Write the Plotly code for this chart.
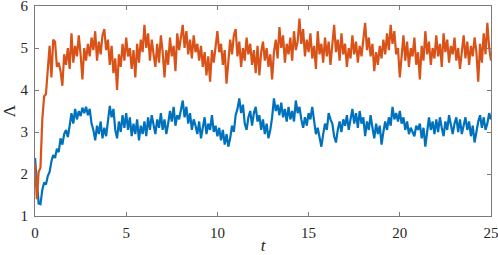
import plotly.graph_objects as go

t = [round(0.1 * i, 1) for i in range(251)]

blue = [
    2.38, 1.85, 1.30, 1.28, 1.62, 1.80, 1.75, 1.95, 2.05, 2.30,
    2.45, 2.38, 2.60, 2.52, 2.85, 2.70, 2.95, 3.05, 2.88, 3.15,
    3.45, 3.20, 3.55, 3.30, 3.50, 3.38, 3.58, 3.45, 3.60, 3.40,
    3.55, 3.20, 3.05, 2.80, 3.15, 2.95, 3.25, 2.85, 3.10, 2.90,
    3.30, 3.62, 3.35, 3.55, 3.05, 2.85, 3.25, 3.00, 3.40, 3.10,
    3.45, 3.05, 3.35, 2.90, 3.20, 2.95, 3.30, 2.80, 3.15, 2.95,
    3.25, 2.90, 3.35, 3.05, 3.40, 3.15, 2.95, 3.30, 3.10, 3.45,
    3.05, 3.30, 2.95, 3.20, 3.50, 3.25, 3.60, 3.15, 3.40, 3.30,
    3.55, 3.75, 3.35, 3.60, 3.20, 3.45, 3.05, 3.30, 3.15, 2.95,
    3.25, 2.85, 3.10, 3.35, 2.95, 3.20, 3.05, 3.40, 3.00, 3.15,
    2.90, 3.10, 2.80, 3.05, 2.70, 2.95, 2.65, 2.85, 3.15, 3.00,
    3.40, 3.55, 3.80, 3.45, 3.65, 3.20, 3.05, 3.35, 3.50, 3.15,
    3.45, 3.60, 3.25, 3.40, 3.05, 3.30, 2.95, 3.20, 2.85, 3.05,
    3.35, 3.80, 3.50, 3.65, 3.40, 3.70, 3.35, 3.55, 3.25, 3.60,
    3.30, 3.50, 3.25, 3.75, 3.45, 3.60, 3.30, 3.10, 3.35, 3.15,
    3.45, 3.30, 3.60, 3.20, 2.95, 3.10, 2.85, 2.65, 2.95, 3.20,
    3.05, 3.45, 3.30, 3.20, 2.90, 2.75, 3.05, 3.25, 3.00, 3.30,
    3.15, 3.40, 3.05, 3.35, 3.55, 3.20, 3.45, 3.10, 3.50, 3.20,
    3.35, 2.90, 3.25, 3.05, 3.40, 3.10, 2.85, 3.20, 2.95, 3.15,
    2.70, 3.00, 3.25, 3.05, 3.35, 3.15, 3.60, 3.30, 3.45, 3.25,
    3.50, 3.20, 3.35, 3.05, 3.25, 2.95, 3.10, 3.00, 2.90, 3.15,
    3.05, 3.20, 2.85, 3.10, 2.65, 3.00, 3.35, 3.05, 3.25, 2.95,
    3.30, 3.00, 3.35, 3.10, 2.90, 3.25, 3.05, 3.40, 3.15, 2.95,
    3.20, 3.35, 3.00, 3.30, 2.95, 3.15, 3.35, 3.05, 3.25, 2.90,
    3.15, 2.75, 3.05, 3.25, 3.40, 3.10, 3.35, 3.05, 3.20, 3.45,
    3.30,
]

orange = [
    2.25, 1.40, 2.05, 2.15, 3.30, 3.85, 3.90, 4.60, 5.05, 4.30,
    5.20, 5.15, 4.55, 4.65, 4.45, 4.10, 4.85, 4.60, 5.00, 4.50,
    5.35, 4.65, 5.05, 4.80, 5.30, 4.85, 4.25, 5.00, 4.70, 5.10,
    4.80, 5.25, 4.95, 5.40, 4.70, 5.15, 4.85, 5.30, 5.45, 4.95,
    5.20, 4.60, 5.05, 4.40, 4.75, 4.00, 4.85, 4.55, 5.10, 4.70,
    5.25, 4.80, 5.00, 4.50, 4.95, 4.30, 5.10, 4.65, 5.20, 4.90,
    5.55, 5.00, 5.35, 4.70, 5.20, 4.85, 4.55, 5.10, 4.65, 5.30,
    4.90, 4.30, 4.95, 4.60, 5.25, 4.80, 5.05, 4.45, 5.35, 4.95,
    5.20, 5.55, 5.00, 5.40, 4.85, 5.20, 4.75, 5.30, 4.90, 5.10,
    4.70, 5.05, 4.55, 4.90, 4.35, 4.80, 4.20, 4.95, 4.65, 5.00,
    5.40, 4.90, 5.10, 4.60, 4.95, 4.15, 4.75, 5.20, 4.85, 5.30,
    5.45, 4.80, 5.15, 4.55, 5.00, 4.70, 5.25, 4.85, 5.10, 4.60,
    4.95, 4.40, 5.05, 4.35, 4.90, 5.15, 4.70, 5.00, 4.55, 4.85,
    4.25, 4.90, 5.20, 4.75, 5.50, 5.00, 5.30, 4.65, 5.10, 4.85,
    5.25, 4.70, 5.40, 4.95, 5.15, 5.70, 5.10, 5.45, 4.80, 5.20,
    4.90, 5.35, 4.75, 5.05, 4.50, 5.40, 4.85, 5.10, 4.65, 5.25,
    4.80, 5.15, 4.60, 5.05, 5.55, 4.90, 5.20, 4.70, 5.35, 4.85,
    5.10, 4.55, 5.00, 4.75, 5.30, 4.85, 5.15, 4.65, 5.05, 4.80,
    5.20, 5.60, 4.95, 5.25, 4.80, 5.10, 4.45, 4.90, 4.60, 5.05,
    4.75, 5.20, 4.85, 5.35, 4.95, 5.55, 5.10, 5.40, 4.85, 5.00,
    4.30, 4.85, 5.30, 4.70, 5.15, 4.55, 5.00, 4.80, 5.25, 4.60,
    4.90, 4.25, 5.05, 4.70, 5.40, 4.85, 5.15, 4.60, 5.00, 4.75,
    5.30, 4.80, 5.10, 4.55, 5.35, 4.90, 5.20, 4.65, 5.05, 4.85,
    5.25, 4.70, 5.00, 4.50, 4.95, 5.30, 4.75, 5.15, 4.60, 5.05,
    4.80, 5.25, 4.90, 4.20, 5.10, 4.65, 5.35, 4.85, 5.60, 5.00,
    4.70,
]

x_ticks = [0, 5, 10, 15, 20, 25]
y_ticks = [1, 2, 3, 4, 5, 6]

SERIF = "Times New Roman"
TXT = "#262626"

fig = go.Figure()
fig.add_trace(go.Scatter(x=t, y=blue, mode="lines",
                         line=dict(color="#0072BD", width=2.2)))
fig.add_trace(go.Scatter(x=t, y=orange, mode="lines",
                         line=dict(color="#D95319", width=2.2)))

axis_common = dict(showgrid=False, zeroline=False, showline=True, mirror="ticks",
                   linecolor="#7a7a7a", linewidth=1, ticks="inside", ticklen=4,
                   tickcolor="#7a7a7a", automargin=False,
                   ticklabeloverflow="allow",
                   tickfont=dict(family=SERIF, size=15, color=TXT))

fig.update_layout(
    width=498, height=255,
    margin=dict(l=35, r=7, t=6, b=39),
    plot_bgcolor="white", paper_bgcolor="white",
    showlegend=False,
    font=dict(family=SERIF, size=15, color=TXT),
    xaxis=dict(range=[0, 25], tickvals=x_ticks, **axis_common, ticklabelstandoff=3,
               title=dict(text="<i>t</i>", font=dict(size=17, family=SERIF, color=TXT), standoff=0)),
    yaxis=dict(range=[1, 6], tickvals=y_ticks, **axis_common, ticklabelstandoff=3,
               title=dict(text="Λ", font=dict(size=17, family=SERIF, color=TXT), standoff=2)),
)

fig.write_html("out.html", config={"displayModeBar": False},
               post_script="document.body.style.margin='0';")
